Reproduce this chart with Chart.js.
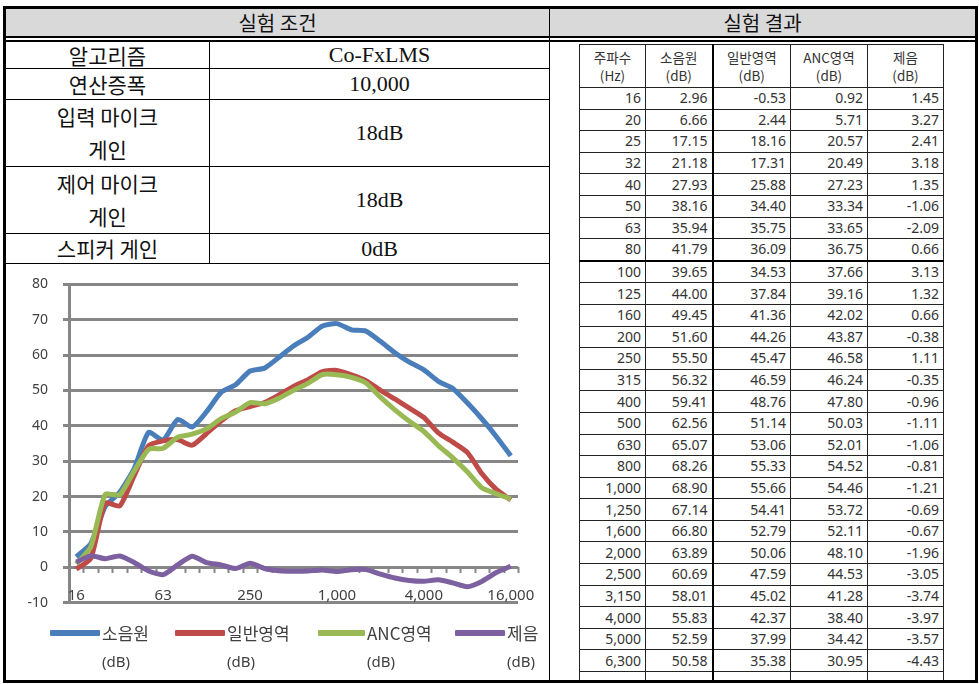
<!DOCTYPE html>
<html>
<head>
<meta charset="utf-8">
<script src="https://cdn.jsdelivr.net/npm/chart.js@4.4.1/dist/chart.umd.min.js"></script>
<style>
  html, body { margin: 0; padding: 0; background: #fff; }
  body { width: 979px; height: 684px; position: relative; overflow: hidden;
         font-family: "Noto Sans CJK KR", "Noto Sans", sans-serif; color: #111; }
  .abs { position: absolute; box-sizing: border-box; }
  #frame { left: 3px; top: 6px; width: 975px; height: 677px; border: 3px solid #000; }
  .hd { top: 9px; height: 28px; background: #d9d9d9; text-align: center; font-size: 20px; line-height: 28px; }
  #dbl { left: 6px; top: 36px; width: 969px; height: 6px; border-top: 2px solid #000; border-bottom: 2px solid #000; }
  .vline { width: 1px; background: #000; }
  .hline { height: 1px; background: #000; }
  .cell { text-align: center; font-size: 21px; }
  .val { font-family: "Liberation Serif", "DejaVu Serif", serif; font-size: 22px; }

  #res-clip { left: 550px; top: 42px; width: 425px; height: 638px; overflow: hidden; }
  #res { position: absolute; left: 29px; top: 2px; border-collapse: collapse; table-layout: fixed;
         font-family: "Noto Sans", "Noto Sans CJK KR", sans-serif; font-size: 14px; color: #333; }
  #res td, #res th { border: 1px solid #222; padding: 0 4px 0 0; height: 20.6px; line-height: 20px; text-align: right; white-space: nowrap; }
  #res th { font-weight: normal; text-align: center; padding: 0; height: 42px; line-height: 18px; font-family: "Noto Sans CJK KR", sans-serif; font-size: 13.5px; }
  #res td:nth-child(3), #res th:nth-child(3) { border-left: 2px solid #000; }
  #res tr.thick td { border-top: 2px solid #000; }

  #chart-box { left: 7px; top: 261px; width: 540px; height: 365px; }
  .lg { top: 620px; height: 56px; }
  .lg .mark { position: absolute; left: 0; top: 10px; height: 6px; border-radius: 1px; }
  .lg .txt { position: absolute; top: 0; font-size: 17px; line-height: 26px; color: #404040; white-space: nowrap; }
  .lg .unit { position: absolute; top: 29px; font-size: 15px; line-height: 24px; color: #404040; font-family: "Noto Sans", sans-serif; }
  .lg0 { left: 50px; } .lg1 { left: 175px; } .lg2 { left: 318px; } .lg3 { left: 455px; }
</style>
</head>
<body>
<div id="frame" class="abs"></div>
<div class="abs hd" style="left:6px;width:543px;">실험 조건</div>
<div class="abs hd" style="left:550px;width:425px;">실험 결과</div>
<div id="dbl" class="abs"></div>
<div class="abs vline" style="left:549px;top:9px;height:671px;"></div>

<div class="abs vline" style="left:209px;top:42px;height:221px;"></div>
<div class="abs hline" style="left:6px;top:68px;width:543px;"></div>
<div class="abs hline" style="left:6px;top:99px;width:543px;"></div>
<div class="abs hline" style="left:6px;top:166px;width:543px;"></div>
<div class="abs hline" style="left:6px;top:233px;width:543px;"></div>
<div class="abs hline" style="left:6px;top:263px;width:543px;"></div>

<div class="abs cell" style="left:6px;top:42px;width:203px;line-height:26px;">알고리즘</div>
<div class="abs cell val" style="left:210px;top:42px;width:339px;line-height:26px;">Co-FxLMS</div>
<div class="abs cell" style="left:6px;top:69px;width:203px;line-height:30px;">연산증폭</div>
<div class="abs cell val" style="left:210px;top:69px;width:339px;line-height:30px;">10,000</div>
<div class="abs cell" style="left:6px;top:100px;width:203px;line-height:33px;">입력 마이크<br>게인</div>
<div class="abs cell val" style="left:210px;top:100px;width:339px;line-height:66px;">18dB</div>
<div class="abs cell" style="left:6px;top:167px;width:203px;line-height:33px;">제어 마이크<br>게인</div>
<div class="abs cell val" style="left:210px;top:167px;width:339px;line-height:66px;">18dB</div>
<div class="abs cell" style="left:6px;top:234px;width:203px;line-height:29px;">스피커 게인</div>
<div class="abs cell val" style="left:210px;top:234px;width:339px;line-height:29px;">0dB</div>

<div id="res-clip" class="abs">
  <table id="res">
    <colgroup><col style="width:66px"><col style="width:67px"><col style="width:78px"><col style="width:77px"><col style="width:76px"></colgroup>
    <thead><tr><th>주파수<br>(Hz)</th><th>소음원<br>(dB)</th><th>일반영역<br>(dB)</th><th>ANC영역<br>(dB)</th><th>제음<br>(dB)</th></tr></thead>
    <tbody id="res-body"></tbody>
  </table>
</div>

<div id="chart-box" class="abs"><canvas id="chart"></canvas></div>
<div id="legend"></div>

<script>
// 1/3 octave band centre frequencies (Hz)
const freqLabels = ['16', '20', '25', '32', '40', '50', '63', '80', '100', '125', '160', '200', '250', '315', '400',
  '500', '630', '800', '1,000', '1,250', '1,600', '2,000', '2,500', '3,150', '4,000', '5,000', '6,300',
  '8,000', '10,000', '12,500', '16,000'];

// 소음원 (dB)
const sourceDb = [2.96, 6.66, 17.15, 21.18, 27.93, 38.16, 35.94, 41.79, 39.65, 44.00, 49.45, 51.60, 55.50, 56.32, 59.41,
  62.56, 65.07, 68.26, 68.90, 67.14, 66.80, 63.89, 60.69, 58.01, 55.83, 52.59, 50.58,
  46.5, 42.0, 37.0, 31.5];
// 일반영역 (dB)
const normalDb = [-0.53, 2.44, 18.16, 17.31, 25.88, 34.40, 35.75, 36.09, 34.53, 37.84, 41.36, 44.26, 45.47, 46.59, 48.76,
  51.14, 53.06, 55.33, 55.66, 54.41, 52.79, 50.06, 47.59, 45.02, 42.37, 37.99, 35.38,
  32.5, 26.5, 22.0, 19.0];
// ANC영역 (dB)
const ancDb = [0.92, 5.71, 20.57, 20.49, 27.23, 33.34, 33.65, 36.75, 37.66, 39.16, 42.02, 43.87, 46.58, 46.24, 47.80,
  50.03, 52.01, 54.52, 54.46, 53.72, 52.11, 48.10, 44.53, 41.28, 38.40, 34.42, 30.95,
  27.0, 22.5, 20.8, 19.3];
// 제음 (dB)
const reductionDb = [1.45, 3.27, 2.41, 3.18, 1.35, -1.06, -2.09, 0.66, 3.13, 1.32, 0.66, -0.38, 1.11, -0.35, -0.96,
  -1.11, -1.06, -0.81, -1.21, -0.69, -0.67, -1.96, -3.05, -3.74, -3.97, -3.57, -4.43,
  -5.5, -4.0, -1.5, 0.3];

const seriesNames = ['소음원', '일반영역', 'ANC영역', '제음'];
const seriesColors = ['#4a7ebb', '#be4b48', '#98b954', '#7d60a0'];
const shownTicks = ['16', '63', '250', '1,000', '4,000', '16,000'];
const tableRowCount = 27; // rows visible in the pasted table

// result table
const body = document.getElementById('res-body');
let rows = '';
for (let i = 0; i < tableRowCount; i++) {
  rows += `<tr${freqLabels[i] === '100' ? ' class="thick"' : ''}>
    <td>${freqLabels[i]}</td><td>${sourceDb[i].toFixed(2)}</td><td>${normalDb[i].toFixed(2)}</td>
    <td>${ancDb[i].toFixed(2)}</td><td>${reductionDb[i].toFixed(2)}</td></tr>`;
}
rows += '<tr><td></td><td></td><td></td><td></td><td></td></tr>';
body.innerHTML = rows;

// category axis crosses at 0 with small tick marks; labels sit low, on the -10 line
const zeroAxis = {
  id: 'zeroAxis',
  beforeDatasetsDraw(chart) {
    const { ctx, scales: { x, y } } = chart;
    const y0 = Math.round(y.getPixelForValue(0));
    const step = x.getPixelForValue(1) - x.getPixelForValue(0);
    ctx.save();
    ctx.strokeStyle = '#868686';
    ctx.lineWidth = 2;
    ctx.beginPath();
    for (let i = 0; i <= freqLabels.length; i++) {
      const px = Math.round(x.getPixelForValue(i) - step / 2) + 0.5;
      ctx.moveTo(px, y0);
      ctx.lineTo(px, y0 + 6);
    }
    ctx.stroke();

    const yLow = y.getPixelForValue(-10);
    ctx.fillStyle = '#404040';
    ctx.font = '15px "Noto Sans"';
    ctx.textAlign = 'center';
    ctx.textBaseline = 'middle';
    freqLabels.forEach((lab, i) => {
      if (shownTicks.includes(lab)) ctx.fillText(lab, x.getPixelForValue(i), yLow - 7);
    });
    ctx.restore();
  }
};

const allSeries = [sourceDb, normalDb, ancDb, reductionDb];

new Chart(document.getElementById('chart'), {
  type: 'line',
  data: {
    labels: freqLabels,
    datasets: allSeries.map((d, i) => ({
      label: seriesNames[i],
      data: d,
      borderColor: seriesColors[i],
      backgroundColor: seriesColors[i],
      borderWidth: 5,
      pointRadius: 0,
      tension: 0.2,
      order: 4 - i
    }))
  },
  options: {
    responsive: true,
    maintainAspectRatio: false,
    animation: false,
    layout: { padding: { top: 0, right: 29, left: 0, bottom: 0 } },
    plugins: { legend: { display: false }, tooltip: { enabled: false } },
    scales: {
      x: { display: false, offset: true },
      y: {
        min: -10, max: 80,
        afterFit: s => { s.width = 62; },
        grid: { color: '#868686', lineWidth: 3, tickLength: 6 },
        border: { display: true, color: '#868686', width: 3 },
        ticks: { stepSize: 10, padding: 15, color: '#404040', font: { family: 'Noto Sans', size: 14 } }
      }
    }
  },
  plugins: [zeroAxis]
});

// legend with unit on a second line
document.getElementById('legend').innerHTML = seriesNames.map((n, i) => {
  const w = i === 2 ? 47 : 50;
  return `<div class="abs lg lg${i}">
    <div class="mark" style="width:${w}px;background:${seriesColors[i]}"></div>
    <div class="txt" style="left:${w + 2}px">${n}</div>
    <div class="unit" style="left:${w + 2}px">(dB)</div></div>`;
}).join('');
</script>
</body>
</html>
